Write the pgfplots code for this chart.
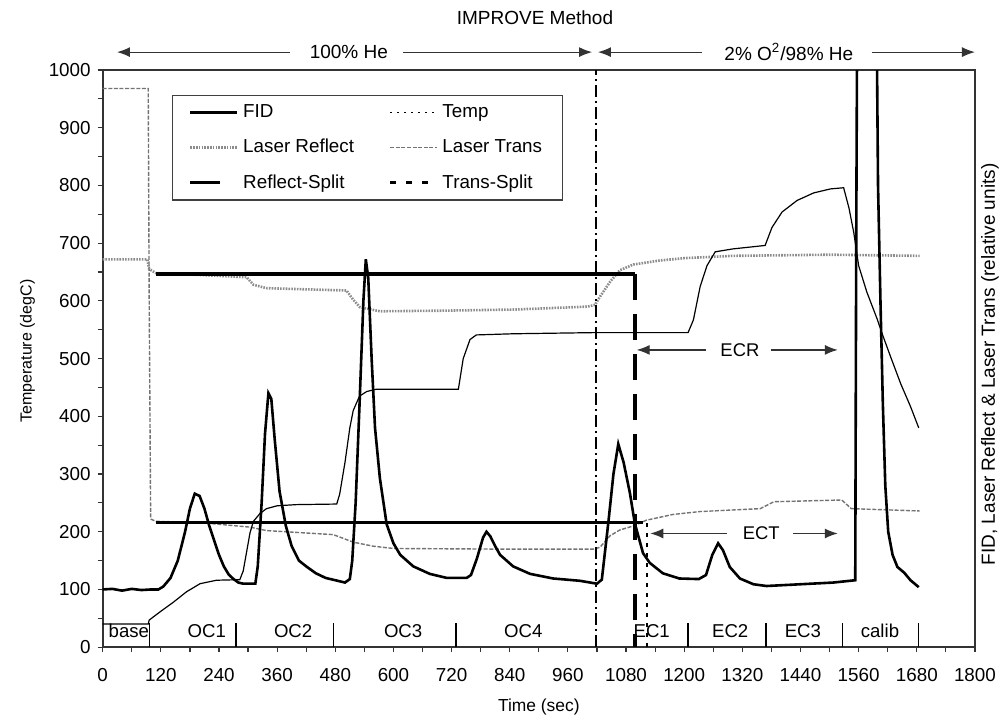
\documentclass[border=0pt]{standalone}
\usepackage{fontspec}
\setmainfont{Liberation Sans}
\usepackage{pgfplots}
\pgfplotsset{compat=1.18}
\usetikzlibrary{arrows.meta}

\pgfplotsset{
  shortleg/.style={legend image code/.code={\draw[##1] (0pt,0pt) -- (15pt,0pt); \path (23.5pt,0pt);}},
}
\newcommand{\fs}{\fontsize{9.4}{11}\selectfont}

\begin{document}
\begin{tikzpicture}
\begin{axis}[
  scale only axis, width=436pt, height=288.5pt,
  xmin=0, xmax=1800, ymin=0, ymax=1000,
  xtick distance=120, ytick distance=100,
  minor x tick num=1, minor y tick num=1,
  xtick pos=bottom, ytick pos=left,
  tick align=outside,
  major tick length=2.5pt, minor tick length=2.5pt,
  every tick/.style={black!80, line width=0.6pt},
  axis line style={black!80, line width=0.9pt},
  clip mode=individual,
  /pgf/number format/assume math mode=true,
  /pgf/number format/1000 sep={},
  tick label style={font=\fs},
  xticklabel style={yshift=-4.5pt},
  xlabel={Time (sec)}, ylabel={Temperature (degC)},
  xlabel style={font=\fontsize{8.7}{10}\selectfont, yshift=-2pt},
  ylabel style={font=\fontsize{8}{10}\selectfont, at={(ticklabel cs:0.513)}},
  legend columns=2, legend cell align=left,
  legend style={at={(axis description cs:0.0795,0.9567)}, anchor=north west,
    draw=black!75, line width=0.6pt, font=\fs,
    inner xsep=8pt, inner ysep=2.5pt, row sep=5.3pt,
    /tikz/every even column/.style={column sep=15.5pt}},
  legend image code/.code={\draw[#1] (0pt,0pt) -- (23.5pt,0pt);},
]
% legend entries
\addlegendimage{black, line width=1.3pt}
\addlegendentry{FID}
\addlegendimage{black, line width=0.6pt, dash pattern=on 1pt off 2.5pt}
\addlegendentry{Temp}
\addlegendimage{black!45, line width=1.3pt, dash pattern=on 0.8pt off 0.6pt}
\addlegendentry{Laser Reflect}
\addlegendimage{black!55, line width=0.7pt, dash pattern=on 2pt off 0.8pt}
\addlegendentry{Laser Trans}
\addlegendimage{shortleg, black, line width=1.8pt}
\addlegendentry{Reflect-Split}
\addlegendimage{black, line width=1.2pt, dash pattern=on 3pt off 5pt}
\addlegendentry{Trans-Split}

% Laser Trans
\addplot[forget plot, black!55, line width=0.7pt, dash pattern=on 2pt off 0.8pt] coordinates {
(0,968)(94,968)(96,600)(99,222)(110,218)(200,216)(304,208)(338,202)(476,195)(517,182)(558,175)(600,171)(800,170)(1013,170)(1026,173)(1047,193)(1067,203)(1095,210)(1122,220)(1177,230)(1233,235)(1357,240)(1385,252)(1525,255)(1545,240)(1686,236)};
% Laser Reflect
\addplot[forget plot, black!45, line width=1.3pt, dash pattern=on 0.8pt off 0.6pt] coordinates {
(0,672)(92,672)(96,655)(110,648)(200,645)(297,641)(311,628)(338,622)(420,620)(503,618)(517,602)(531,589)(572,582)(700,583)(850,585)(1000,590)(1016,593)(1026,607)(1047,633)(1067,653)(1095,663)(1150,670)(1200,674)(1300,678)(1500,680)(1686,678)};
% Temp
\addplot[forget plot, black, line width=0.6pt] coordinates {
(0,40)(94,40)(96,47)(118,61)(146,78)(173,96)(201,110)(235,116)(283,117)(290,132)(304,198)(311,218)(325,232)(338,240)(360,245)(400,247)(483,248)(489,265)(500,320)(510,380)(517,410)(530,435)(545,443)(565,447)(734,447)(744,500)(758,533)(771,541)(847,543)(1013,545)(1208,545)(1219,567)(1233,625)(1247,661)(1264,685)(1300,690)(1367,696)(1381,727)(1402,754)(1433,774)(1467,787)(1502,794)(1529,796)(1540,761)(1550,718)(1560,661)(1577,615)(1598,569)(1609,542)(1626,503)(1647,456)(1667,417)(1684,380)};
% Reflect-Split levels
\addplot[forget plot, black, line width=1.8pt] coordinates {(110,647)(1098,647)};
\addplot[forget plot, black, line width=1.5pt] coordinates {(110,216)(1115,216)};
% Trans-Split
\addplot[forget plot, black, line width=2pt, dash pattern=on 13pt off 7pt] coordinates {(1098,647)(1098,0)};
% FID
\addplot[forget plot, black, line width=1.3pt] coordinates {
(0,100)(20,101)(40,98)(60,101)(80,99)(100,100)(115,100)(125,105)(140,120)(155,150)(170,200)(180,240)(190,266)(200,262)(210,240)(220,210)(230,185)(240,160)(250,140)(260,126)(270,118)(280,112)(290,110)(300,110)(315,110)(320,140)(328,250)(335,370)(342,440)(348,430)(355,360)(365,270)(378,210)(390,175)(405,150)(420,140)(440,128)(460,120)(480,116)(500,112)(510,118)(515,150)(522,250)(530,420)(538,600)(543,672)(548,640)(555,500)(562,380)(572,293)(586,213)(600,180)(614,160)(641,140)(675,127)(710,120)(751,120)(760,125)(772,153)(785,190)(792,200)(800,192)(810,175)(820,160)(847,140)(882,127)(930,119)(985,115)(1020,110)(1030,117)(1044,220)(1054,300)(1064,352)(1075,320)(1088,267)(1098,215)(1115,163)(1129,146)(1156,128)(1190,119)(1230,118)(1245,125)(1258,160)(1270,180)(1280,168)(1294,139)(1315,119)(1343,109)(1370,106)(1439,109)(1508,112)(1553,116)(1555,700)(1557,1100)(1578,1400)(1597,1100)(1600,800)(1605,600)(1610,420)(1615,280)(1621,200)(1630,160)(1640,139)(1654,129)(1667,116)(1684,104)};

% oxidation switch and split markers
\draw[black, line width=0.6pt, dash pattern=on 6pt off 2pt on 1pt off 2pt] (axis cs:1018,0) -- (axis cs:1018,1000);
\draw[black, line width=0.8pt, dash pattern=on 2pt off 3pt] (axis cs:1123,0) -- (axis cs:1123,215);

% step separators and labels
\pgfplotsinvokeforeach{96,275,476,729,1208,1369,1526,1683}{
  \draw[black, line width=0.6pt] (axis cs:#1,0) -- (axis cs:#1,42);
}
\tikzset{steplab/.style={anchor=base, font=\fontsize{9.3}{10}\selectfont, inner sep=0pt}}
\node[steplab] at (axis cs:54,16) {base};
\node[steplab] at (axis cs:215,16) {OC1};
\node[steplab] at (axis cs:393,16) {OC2};
\node[steplab] at (axis cs:620,16) {OC3};
\node[steplab] at (axis cs:868,16) {OC4};
\node[steplab] at (axis cs:1133,16) {EC1};
\node[steplab] at (axis cs:1295,16) {EC2};
\node[steplab] at (axis cs:1445,16) {EC3};
\node[steplab] at (axis cs:1604,16) {calib};

% ECR / ECT arrows
\tikzset{arr/.style={black!80, line width=0.6pt, -{Latex[length=6.5pt,width=5pt]}}}
\draw[arr] (axis cs:1246,515) -- (axis cs:1102,515);
\draw[arr] (axis cs:1380,515) -- (axis cs:1517,515);
\node[font=\fontsize{9.2}{10}\selectfont] at (axis cs:1315,515) {ECR};
\draw[arr] (axis cs:1288,197) -- (axis cs:1130,197);
\draw[arr] (axis cs:1425,197) -- (axis cs:1517,197);
\node[font=\fontsize{9.2}{10}\selectfont] at (axis cs:1359,197) {ECT};

% carrier gas arrows and title
\draw[arr] (axis cs:386,1031) -- (axis cs:29.5,1031);
\draw[arr] (axis cs:620,1031) -- (axis cs:1010,1031);
\node[font=\fontsize{9.5}{11}\selectfont] at (axis cs:508,1031) {100\% He};
\draw[arr] (axis cs:1237,1031) -- (axis cs:1022,1031);
\draw[arr] (axis cs:1587,1031) -- (axis cs:1800,1031);
\node[font=\fontsize{9.5}{11}\selectfont] at (axis cs:1416,1031) {2\% O\textsuperscript{2}/98\% He};
\node[font=\fontsize{9.5}{11}\selectfont] at (axis cs:892,1090) {IMPROVE Method};

% right axis label
\node[rotate=90, font=\fontsize{9.5}{11}\selectfont] at (axis cs:1831,490) {FID, Laser Reflect \& Laser Trans (relative units)};

\coordinate (bbsw) at (axis cs:-211.9,-119.6);
\coordinate (bbne) at (axis cs:1862,1121.3);
\end{axis}
\pgfresetboundingbox
\path (bbsw) rectangle (bbne);
\end{tikzpicture}
\end{document}
